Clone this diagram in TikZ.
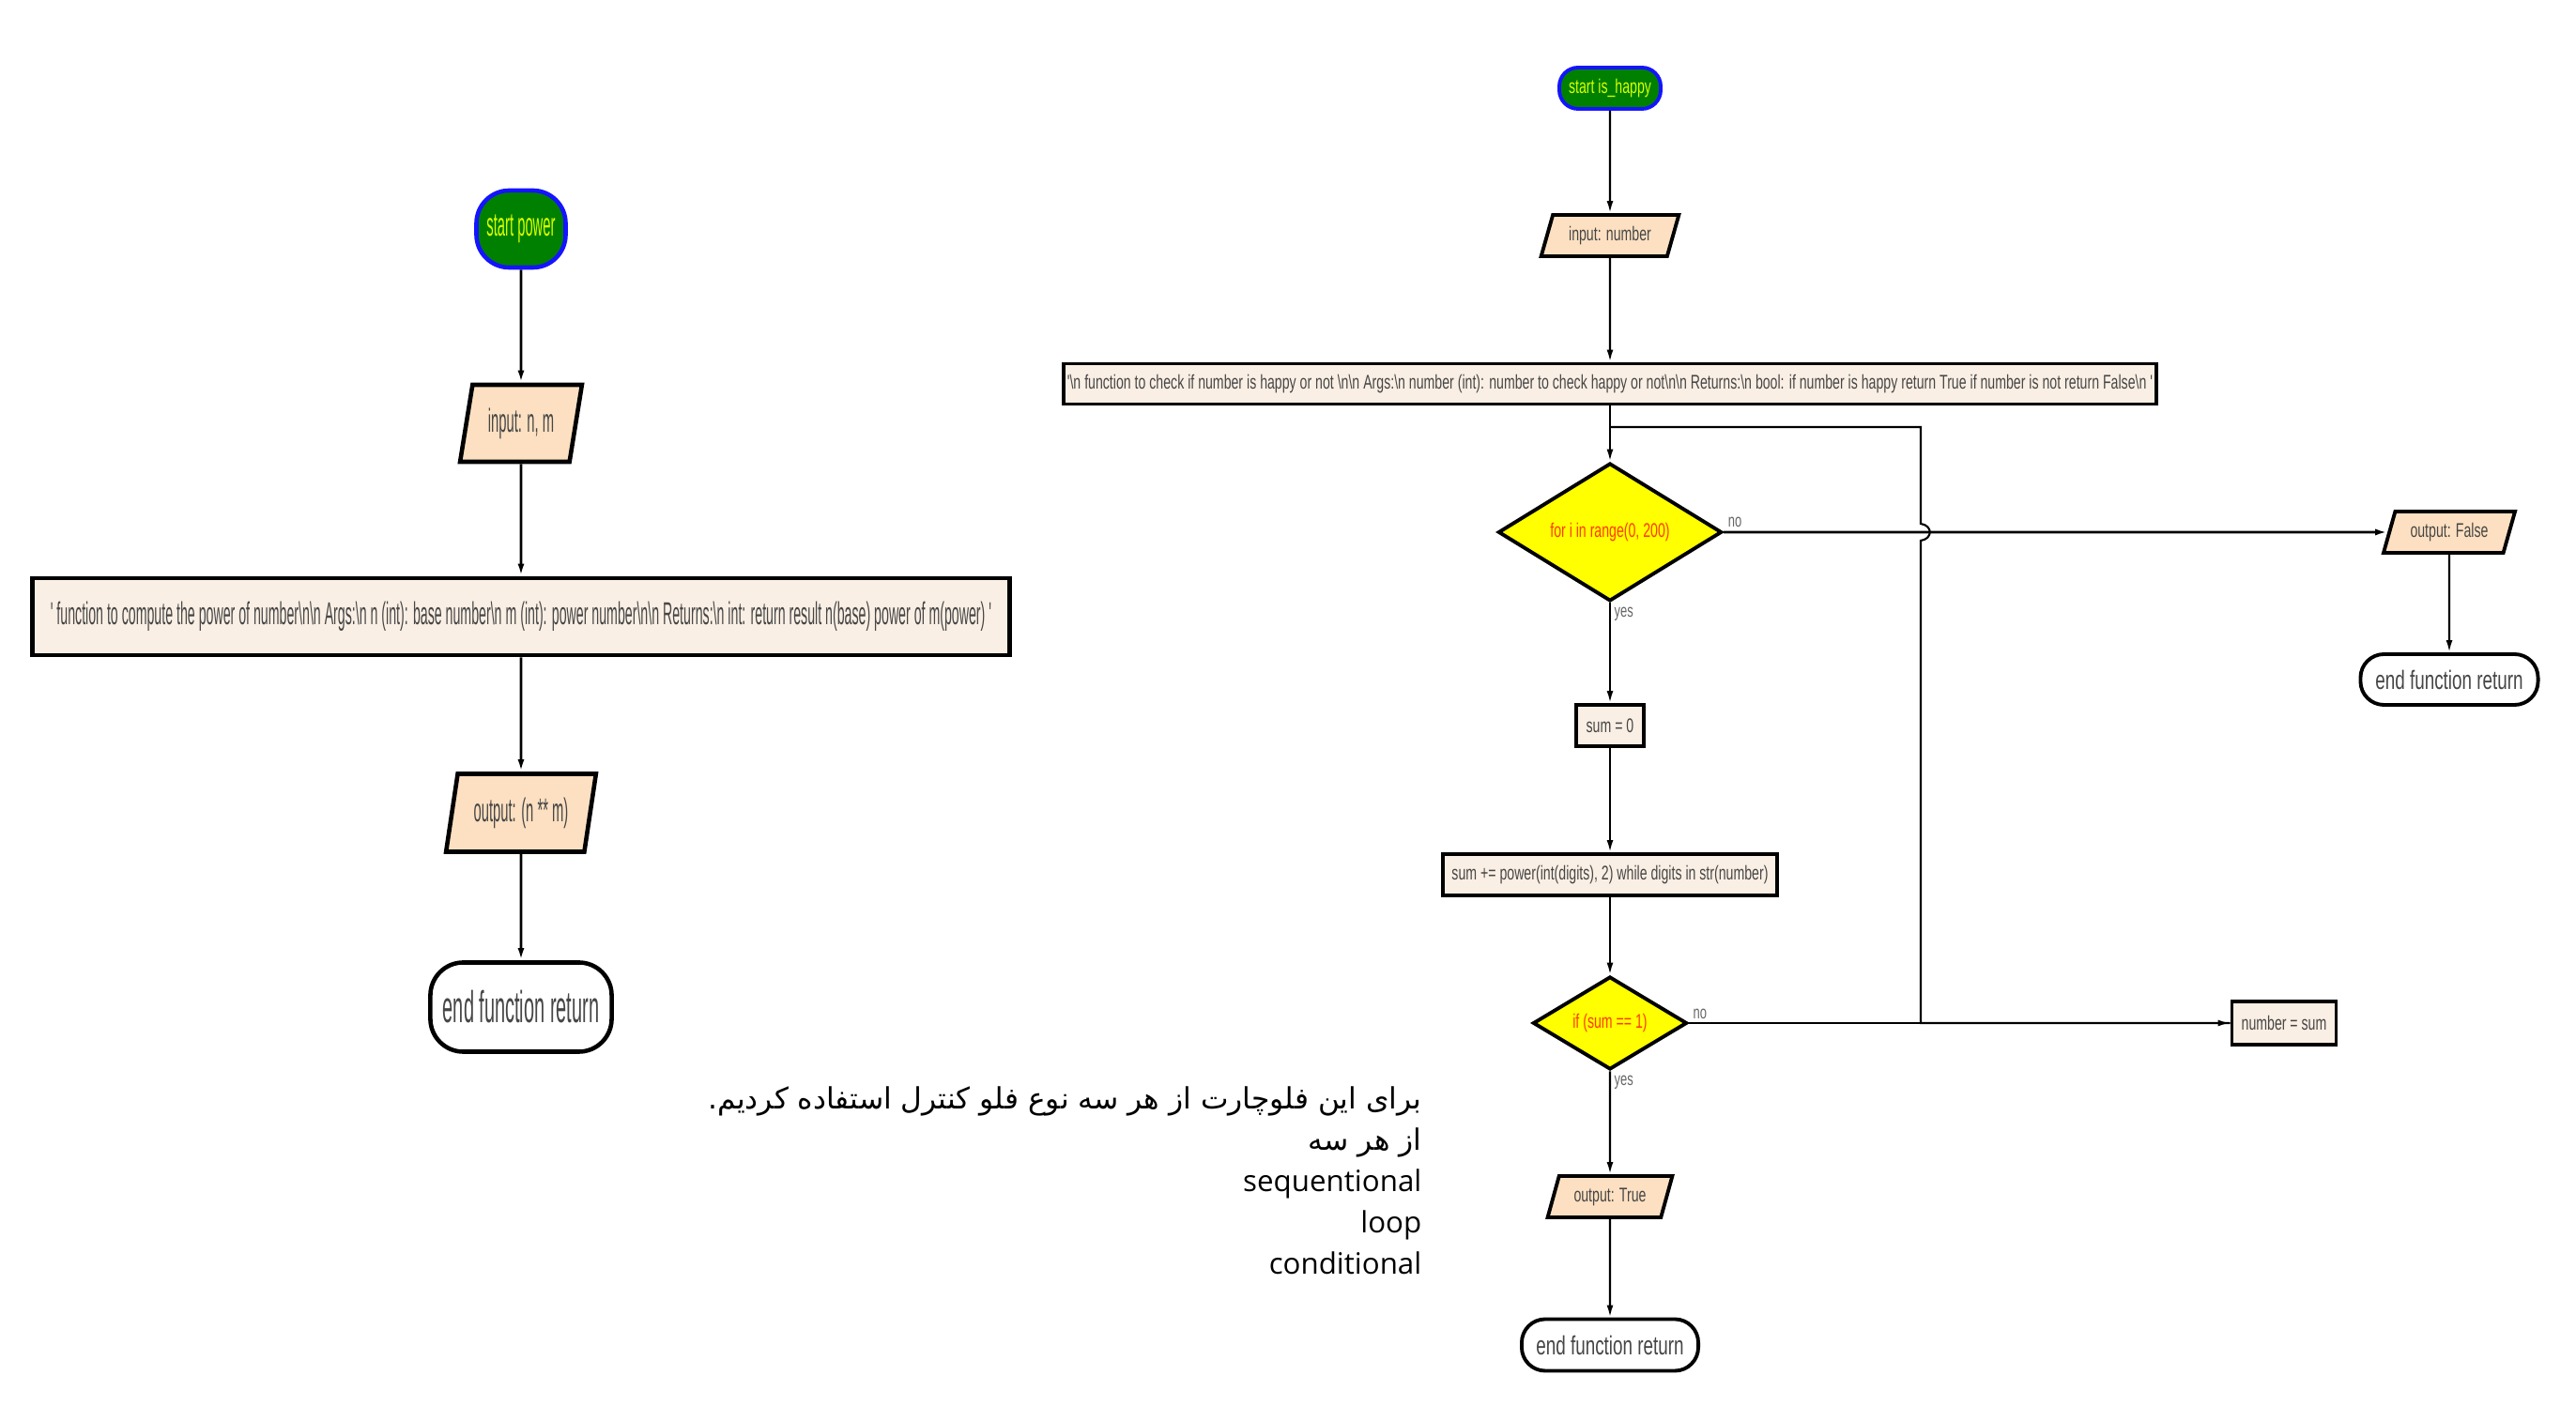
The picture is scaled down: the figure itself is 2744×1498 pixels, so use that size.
\documentclass[tikz,border=0pt]{standalone}
\usepackage{fontspec}
\setmainfont{Liberation Sans}
\newfontfamily\powfont[FakeStretch=0.42]{Liberation Sans}
\newfontfamily\happyfont[FakeStretch=0.67]{Liberation Sans}
\newfontfamily\notefont{Open Sans}
\newfontfamily\arabicfont[Script=Arabic]{DejaVu Sans}
\TeXXeTstate=1
\usetikzlibrary{shapes.geometric,arrows.meta}

\definecolor{startgreen}{RGB}{0,128,0}
\definecolor{startblue}{RGB}{20,20,255}
\definecolor{starttext}{RGB}{215,255,0}
\definecolor{iofill}{RGB}{252,224,193}
\definecolor{procfill}{RGB}{250,239,228}
\definecolor{condfill}{RGB}{255,255,0}
\definecolor{condtext}{RGB}{255,60,0}
\definecolor{boxtext}{RGB}{70,70,70}
\newcommand{\bs}{\textbackslash}

\tikzset{
  startbox/.style={draw=startblue, fill=startgreen, text=starttext, inner sep=1pt},
  endbox/.style={draw, fill=white, text=boxtext, inner sep=1pt},
  iobox/.style={trapezium, trapezium stretches=true, draw, fill=iofill, text=boxtext, inner sep=1pt},
  procbox/.style={rectangle, draw, fill=procfill, text=boxtext, inner sep=1pt},
  condbox/.style={diamond, draw, fill=condfill, text=condtext, inner sep=0pt},
  powtext/.style={font=\powfont\fontsize{10}{12}\selectfont, line width=1.3pt},
  happytext/.style={font=\happyfont\fontsize{6}{7}\selectfont, line width=1.1pt},
  flow/.style={-{Latex[length=0.13cm,width=0.07cm]}, line width=0.6pt},
  lbl/.style={font=\happyfont\fontsize{5.5}{6}\selectfont, text=black!60, inner sep=1pt}
}

\begin{document}
\begin{tikzpicture}[x=0.01cm, y=-0.01cm]
  \useasboundingbox (0,0) rectangle (2744,1498);

  % power
  \node[startbox, powtext, rounded corners=0.35cm, minimum width=0.95cm, minimum height=0.82cm] (pstart) at (555,244) {start power};
  \node[iobox, powtext, trapezium left angle=76, trapezium right angle=104, minimum width=1.3cm, minimum height=0.82cm] (pinput) at (555,451) {input: n, m};
  \node[procbox, powtext, font=\powfont\fontsize{9.6}{12}\selectfont, minimum width=10.4cm, minimum height=0.82cm] (pdoc) at (555,657) {' function to compute the power of number\bs n\bs n Args:\bs n n (int): base number\bs n m (int): power number\bs n\bs n Returns:\bs n int: return result n(base) power of m(power) '};
  \node[iobox, powtext, trapezium left angle=76, trapezium right angle=104, minimum width=1.6cm, minimum height=0.83cm] (pout) at (555,866) {output: (n ** m)};
  \node[endbox, powtext, font=\powfont\fontsize{13.5}{15}\selectfont, rounded corners=0.35cm, minimum width=1.93cm, minimum height=0.95cm] (pend) at (555,1073) {end function return};

  \draw[flow, line width=0.8pt] (pstart) -- (pinput);
  \draw[flow, line width=0.8pt] (pinput) -- (pdoc);
  \draw[flow, line width=0.8pt] (pdoc) -- (pout);
  \draw[flow, line width=0.8pt] (pout) -- (pend);

  % is_happy
  \node[startbox, happytext, rounded corners=0.2cm, minimum width=1.08cm, minimum height=0.44cm] (hstart) at (1715,94) {start is\_happy};
  \node[iobox, happytext, trapezium left angle=70, trapezium right angle=110, minimum width=1.47cm, minimum height=0.44cm] (hinput) at (1715,251) {input: number};
  \node[procbox, happytext, minimum width=11.62cm, minimum height=0.43cm] (hdoc) at (1715,409) {'\bs n function to check if number is happy or not \bs n\bs n Args:\bs n number (int): number to check happy or not\bs n\bs n Returns:\bs n bool: if number is happy return True if number is not return False\bs n '};
  \node[condbox, happytext, minimum width=2.38cm, minimum height=1.38cm] (hfor) at (1715,567) {for i in range(0, 200)};
  \node[iobox, happytext, trapezium left angle=70, trapezium right angle=110, minimum width=1.4cm, minimum height=0.44cm] (hfalse) at (2609,567) {output: False};
  \node[endbox, happytext, font=\happyfont\fontsize{8}{9}\selectfont, rounded corners=0.25cm, minimum width=1.89cm, minimum height=0.54cm] (hend1) at (2609,724) {end function return};
  \node[procbox, happytext, minimum width=0.72cm, minimum height=0.44cm] (hsum) at (1715,773) {sum = 0};
  \node[procbox, happytext, minimum width=3.55cm, minimum height=0.44cm] (hadd) at (1715,932) {sum += power(int(digits), 2) while digits in str(number)};
  \node[condbox, happytext, minimum width=1.64cm, minimum height=0.98cm] (hif) at (1715,1090) {if (sum == 1)};
  \node[procbox, happytext, minimum width=1.11cm, minimum height=0.46cm] (hnum) at (2433,1090) {number = sum};
  \node[iobox, happytext, trapezium left angle=70, trapezium right angle=110, minimum width=1.33cm, minimum height=0.44cm] (htrue) at (1715,1275) {output: True};
  \node[endbox, happytext, font=\happyfont\fontsize{8}{9}\selectfont, rounded corners=0.25cm, minimum width=1.88cm, minimum height=0.55cm] (hend2) at (1715,1433) {end function return};

  \coordinate (loopbot) at (2046,1090);
  \coordinate (looptop) at (2046,455);
  \coordinate (loopjoin) at (1715,455);

  \draw[flow] (hstart) -- (hinput);
  \draw[flow] (hinput) -- (hdoc);
  \draw[flow] (hdoc) -- (hfor);
  \draw[line width=0.6pt] (hnum.west) -- (loopbot) -- (2046,576) .. controls (2059,574) and (2059,560) .. (2046,558) -- (looptop) -- (loopjoin);
  \draw[flow, line width=0.8pt] (hfor.east) -- node[lbl, pos=0, anchor=south west] {no} (hfalse.west);
  \draw[flow] (hfalse) -- (hend1);
  \draw[flow] (hfor.south) -- node[lbl, pos=0, anchor=north west] {yes} (hsum.north);
  \draw[flow] (hsum) -- (hadd);
  \draw[flow] (hadd) -- (hif);
  \draw[flow] (hif.east) -- node[lbl, pos=0, anchor=south west] {no} (hnum.west);
  \draw[flow] (hif.south) -- node[lbl, pos=0, anchor=north west] {yes} (htrue.north);
  \draw[flow] (htrue) -- (hend2);

  % note
  \node[anchor=north east, align=right, inner sep=0pt, font=\notefont\fontsize{8.9}{12.5}\selectfont] (note) at (1515,1157)
    {{\arabicfont\beginR برای این فلوچارت از هر سه نوع فلو کنترل استفاده کردیم.\endR}\\
     {\arabicfont\beginR از هر سه\endR}\\
     sequentional\\
     loop\\
     conditional};
\end{tikzpicture}
\end{document}
